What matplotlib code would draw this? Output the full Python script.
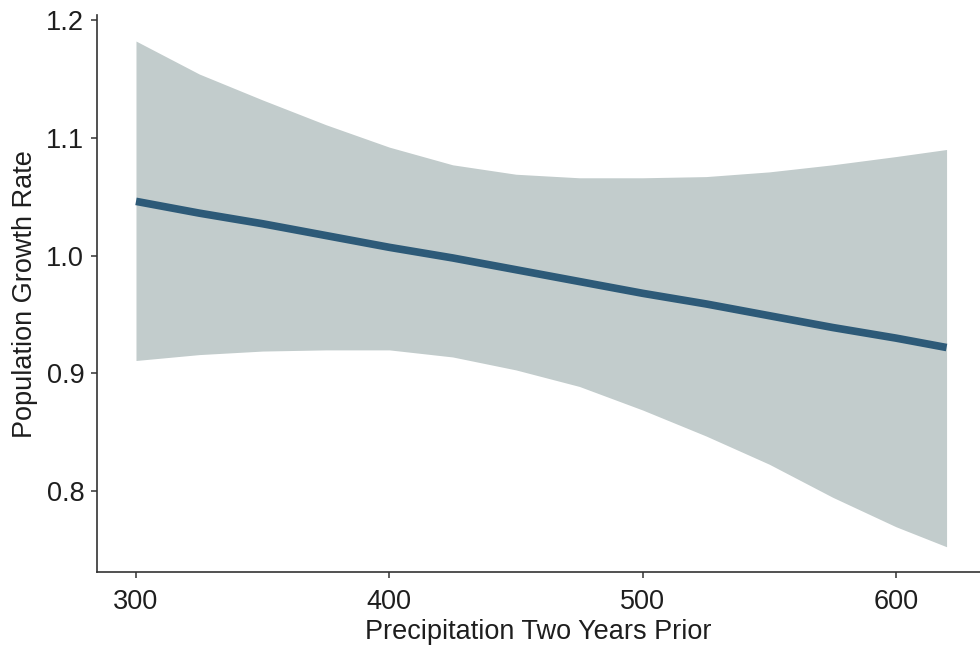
import matplotlib
matplotlib.use("Agg")
import matplotlib.pyplot as plt

# values
precip = [300, 325, 350, 375, 400, 425, 450, 475, 500, 525, 550, 575, 600, 620]
growth = [1.046, 1.036, 1.027, 1.017, 1.007, 0.998, 0.988, 0.978, 0.968, 0.959, 0.949, 0.939, 0.930, 0.922]
upper = [1.182, 1.154, 1.132, 1.111, 1.092, 1.077, 1.069, 1.066, 1.066, 1.067, 1.071, 1.077, 1.084, 1.090]
lower = [0.911, 0.916, 0.919, 0.920, 0.920, 0.914, 0.903, 0.889, 0.869, 0.847, 0.823, 0.795, 0.770, 0.753]

xticks = [300, 400, 500, 600]
yticks = [0.8, 0.9, 1.0, 1.1, 1.2]

plt.rcParams["font.family"] = ["Liberation Sans", "DejaVu Sans"]

fig = plt.figure(figsize=(9.8, 6.52), dpi=100)
ax = fig.add_axes([0.0987, 0.1222, 0.9013, 0.855])

ax.fill_between(precip, lower, upper, color="#c2cccc", linewidth=0)
ax.plot(precip, growth, color="#2d5a78", linewidth=5.5, solid_capstyle="butt")

ax.set_xlim(284.5, 633.2)
ax.set_ylim(0.7313, 1.2042)
ax.set_xticks(xticks)
ax.set_yticks(yticks)
ax.set_yticklabels([f"{v:.1f}" for v in yticks])

for side in ["top", "right"]:
    ax.spines[side].set_visible(False)
for side in ["left", "bottom"]:
    ax.spines[side].set_color("#333333")
    ax.spines[side].set_linewidth(1.2)

ax.tick_params(axis="both", colors="#333333", labelcolor="#1e1e1e",
               labelsize=19.5, length=4, width=1.1)
ax.tick_params(axis="x", pad=8)
ax.tick_params(axis="y", pad=5)

ax.set_xlabel("Precipitation Two Years Prior", fontsize=19.5, color="#1e1e1e", labelpad=3)
ax.set_ylabel("Population Growth Rate", fontsize=19.5, color="#1e1e1e", labelpad=6)

fig.savefig("out.png", dpi=100)
